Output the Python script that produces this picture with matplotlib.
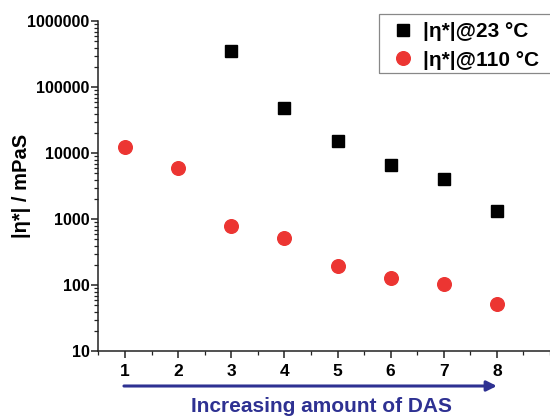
import matplotlib
matplotlib.use("Agg")
import matplotlib.pyplot as plt
from matplotlib.patches import Rectangle
from matplotlib.ticker import FixedLocator, LogLocator, NullFormatter, MultipleLocator

plt.rcParams['font.family'] = ['Liberation Sans', 'DejaVu Sans']

x_black = [3, 4, 5, 6, 7, 8]
eta_23 = [359000, 48600, 15200, 6720, 4040, 1336]
x_red = [1, 2, 3, 4, 5, 6, 7, 8]
eta_110 = [12450, 6050, 791, 526, 198, 129, 105, 52.6]
xticks = [1, 2, 3, 4, 5, 6, 7, 8]
yticks = [10, 100, 1000, 10000, 100000, 1000000]
ytick_labels = ["10", "100", "1000", "10000", "100000", "1000000"]
legend_labels = ["|η*|@23 °C", "|η*|@110 °C"]
ylabel = "|η*| / mPaS"
xlabel = "Increasing amount of DAS"

W, H = 550, 417
fig = plt.figure(figsize=(5.5, 4.17), dpi=100)
ax = fig.add_axes([0.179, 0.1576, 0.821, 0.7913])

red = '#EC3532'
blue = '#2E3192'
ax.plot(x_black, eta_23, linestyle='none', marker='s', markersize=8.8,
        color='black', label=legend_labels[0])
ax.plot(x_red, eta_110, linestyle='none', marker='o', markersize=9.8,
        color=red, markeredgecolor=red, label=legend_labels[1])

ax.set_yscale('log')
ax.set_ylim(10, 1000000)
ax.set_xlim(0.5, 9.0)

ax.yaxis.set_major_locator(FixedLocator(yticks))
ax.set_yticklabels(ytick_labels)
ax.yaxis.set_minor_locator(LogLocator(base=10, subs=range(2, 10)))
ax.yaxis.set_minor_formatter(NullFormatter())
ax.set_xticks(xticks)
ax.xaxis.set_minor_locator(MultipleLocator(0.5))

for s in ['top', 'right']:
    ax.spines[s].set_visible(False)
for s in ['left', 'bottom']:
    ax.spines[s].set_linewidth(1.1)
    ax.spines[s].set_color('#222222')

ax.tick_params(axis='both', which='major', direction='out', length=5, width=1.1, color='#222222')
ax.tick_params(axis='both', which='minor', direction='out', length=3, width=0.9, color='#222222')
ax.tick_params(axis='y', labelsize=11.5, pad=1.5)
ax.tick_params(axis='x', labelsize=12.5, pad=4)
for lab in ax.get_xticklabels() + ax.get_yticklabels():
    lab.set_fontweight('bold')

fig.text(0.04, 0.554, ylabel, rotation=90, ha='center', va='center',
         fontsize=14.5, fontweight='bold')

arrow_y = (H - 386) / H
ax.annotate('', xy=(8.0, arrow_y), xytext=(0.98, arrow_y),
            xycoords=('data', 'figure fraction'), textcoords=('data', 'figure fraction'),
            arrowprops=dict(arrowstyle='-|>', color=blue, lw=2.2, mutation_scale=15,
                            shrinkA=0, shrinkB=0))

fig.text(0.584, (H - 406) / H, xlabel, ha='center', va='center', fontsize=15,
         fontweight='bold', color=blue)

# legend frame (extends past right edge as in the reference)
fig.patches.append(Rectangle((379 / W, (H - 73) / H), 180 / W, 59 / H,
                             transform=fig.transFigure, fill=False,
                             edgecolor='#888888', linewidth=0.9))

leg = ax.legend(loc='center left', bbox_to_anchor=(393 / W, (H - 46) / H),
                bbox_transform=fig.transFigure, frameon=False,
                prop={'weight': 'bold', 'size': 15}, handletextpad=0.44,
                borderpad=0, labelspacing=0.45, handlelength=1.0, borderaxespad=0)

fig.savefig('out.png', dpi=100)
